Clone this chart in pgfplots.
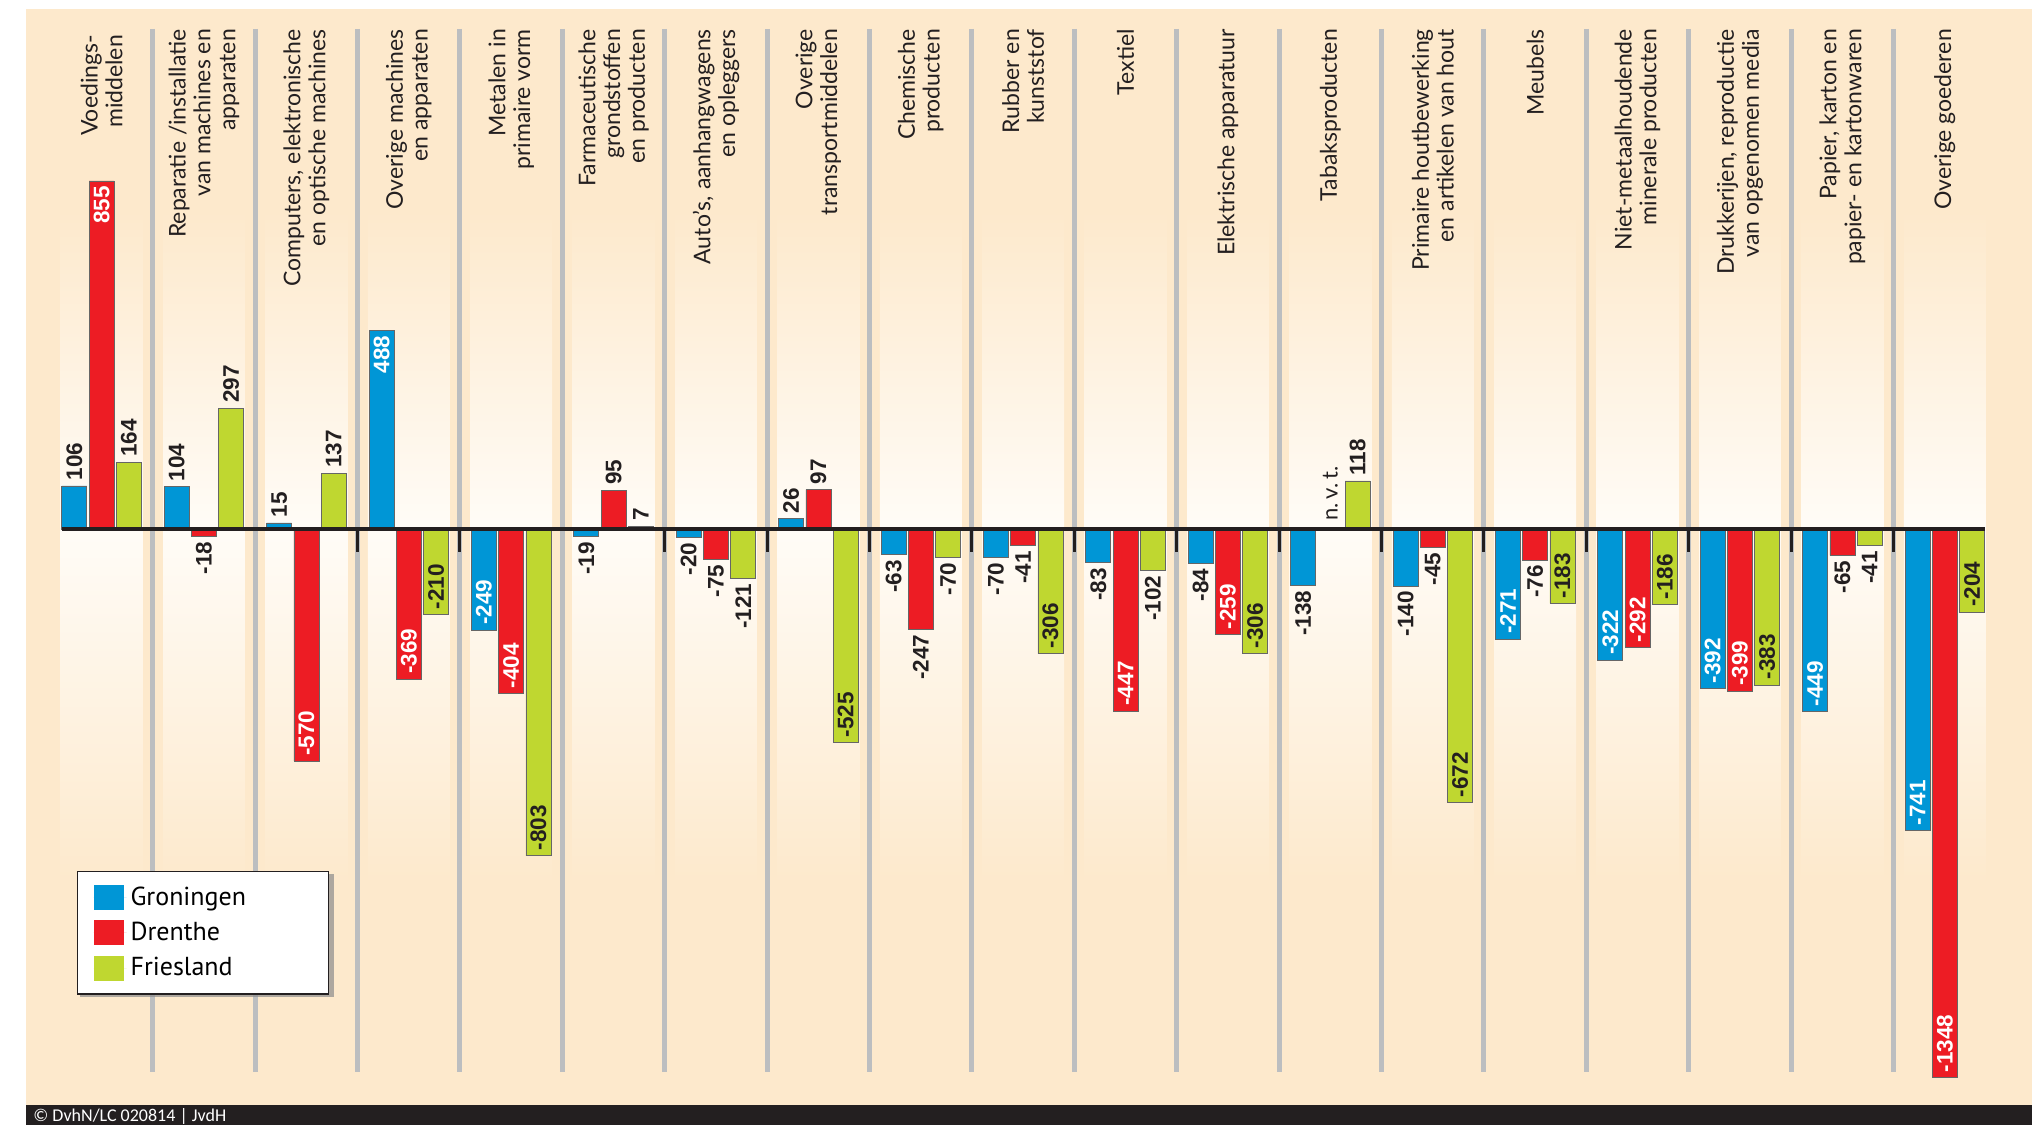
\documentclass[border=0pt]{standalone}
\usepackage{pgfplots}
\pgfplotsset{compat=1.18}
\usepackage{pgfplotstable}
\usepackage{fontspec}
\setmainfont{Lato}
\newfontfamily\valfont{Liberation Sans}
\newfontfamily\legfont{PT Sans}
\newfontfamily\footfont{Carlito}
\usetikzlibrary{calc}
\pgfdeclarelayer{background}
\pgfsetlayers{background,main}

\definecolor{peach}{HTML}{FDE9CC}
\definecolor{colwhite}{HTML}{FFFCF7}
\definecolor{sepgray}{HTML}{BCBEC0}
\definecolor{gblue}{HTML}{0096D6}
\definecolor{dred}{HTML}{ED1C24}
\definecolor{fgreen}{HTML}{BFD730}
\definecolor{ink}{HTML}{231F20}

% Ga/Da/Fa: anchor of the value label; Gw/Dw: 1 = white label inside bar
\pgfplotstableread{
x G D F Ga Da Fa Gw Dw
0 106 855 164 west east west 0 1
1 104 -18 297 west east west 0 0
2 15 -570 137 west west west 0 1
3 488 -369 -210 east west west 1 1
4 -249 -404 -803 west west west 1 1
5 -19 95 7 east west west 0 0
6 -20 -75 -121 east east east 0 0
7 26 97 -525 west west west 0 0
8 -63 -247 -70 east east east 0 0
9 -70 -41 -306 east east west 0 0
10 -83 -447 -102 east west east 0 1
11 -84 -259 -306 east west west 0 1
12 -138 nan 118 east west west 0 0
13 -140 -45 -672 east east west 0 0
14 -271 -76 -183 west east west 1 0
15 -322 -292 -186 west west west 1 1
16 -392 -399 -383 west west west 1 1
17 -449 -65 -41 west east east 1 0
18 -741 -1348 -204 west west west 1 1
}\datatable

\tikzset{
  catlab/.style={rotate=90, anchor=east, align=right, text=ink, inner sep=0pt,
    font=\fontsize{11.5}{12.4}\selectfont},
  vallab/.style={rotate=90, font=\valfont\bfseries\fontsize{11.25}{12}\selectfont,
    inner xsep=2.5pt, inner ysep=0pt, anchor=\pgfplotspointmeta}
}
\pgfplotsset{
  barstyle/.style={draw=black!60, line width=0.35pt},
  labplot/.style={forget plot, draw=none, fill=none,
    point meta=explicit symbolic,
    visualization depends on={y \as \rawy},
    every node near coord/.append style={vallab}},
}

\begin{document}
\begin{tikzpicture}
\begin{axis}[
  at={(0,0)}, anchor=south west,
  scale only axis, width=1003pt, height=548pt,
  hide axis, clip=false,
  xmin=-0.738, xmax=18.852, ymin=-1415.2, ymax=1277.6,
  ybar, bar width=0.244,
  /pgf/number format/.cd, fixed, precision=0, 1000 sep={}, assume math mode=true,
  /pgfplots/.cd,
  legend style={at={(0.0254,0.2135)}, anchor=north west, draw=ink, line width=0.6pt,
    fill=white,
    font=\legfont\fontsize{13}{14.5}\selectfont, inner xsep=8pt, inner ysep=5.5pt,
    row sep=3pt, cells={anchor=west}},
  legend image code/.code={\fill[#1,draw=none] (0pt,-6.25pt) rectangle (15pt,6.25pt);
    \path[draw=none] (0pt,0pt) -- (16.5pt,0pt);},
]
\coordinate (axSW) at (rel axis cs:0,0);
\coordinate (axNE) at (rel axis cs:1,1);
% background columns
\pgfplotsinvokeforeach{0,...,18}{
  \shade[top color=peach, bottom color=colwhite] (axis cs:#1-0.40,781) rectangle (axis cs:#1+0.40,0);
  \shade[top color=colwhite, bottom color=peach] (axis cs:#1-0.40,0) rectangle (axis cs:#1+0.40,-872);
}
% separators
\pgfplotsinvokeforeach{0,...,17}{
  \draw[sepgray, line width=2.5pt] (axis cs:#1+0.5,1229) -- (axis cs:#1+0.5,-1334);
}
\pgfplotsinvokeforeach{2,3,5,6,7,8,9,10,11,12,13,14,15,16,17}{
  \draw[ink, line width=1.5pt] (axis cs:#1+0.5,0) -- (axis cs:#1+0.5,-56);
}

\addplot[fill=gblue, barstyle, bar shift=-0.266] table[x=x, y=G] {\datatable};
\addlegendentry{\makebox[89pt][l]{Groningen}}
\addplot[fill=dred, barstyle, bar shift=0] table[x=x, y=D] {\datatable};
\addlegendentry{\makebox[89pt][l]{Drenthe}}
\addplot[fill=fgreen, barstyle, bar shift=0.266] table[x=x, y=F] {\datatable};
\addlegendentry{\makebox[89pt][l]{Friesland}}

% value labels
\addplot[labplot, bar shift=-0.266,
  visualization depends on={\thisrow{Gw} \as \wflag},
  nodes near coords={\ifdim\wflag pt>0.5pt\color{white}\else\color{ink}\fi\pgfmathprintnumber{\rawy}}]
  table[x=x, y=G, meta=Ga] {\datatable};
\addplot[labplot, bar shift=0,
  visualization depends on={\thisrow{Dw} \as \wflag},
  nodes near coords={\ifdim\wflag pt>0.5pt\color{white}\else\color{ink}\fi\pgfmathprintnumber{\rawy}}]
  table[x=x, y=D, meta=Da] {\datatable};
\addplot[labplot, bar shift=0.266,
  nodes near coords={\color{ink}\pgfmathprintnumber{\rawy}}]
  table[x=x, y=F, meta=Fa] {\datatable};

% zero line
\draw[ink, line width=1.8pt] (axis cs:-0.387,0) -- (axis cs:18.39,0);

\node[rotate=90, anchor=west, inner sep=0pt, text=ink, font=\fontsize{11}{12}\selectfont] at (axis cs:12,20) {n.\,v.\,t.};

% legend shadow
\fill[black!45, opacity=0.7] (rel axis cs:0.0269,0.2108) rectangle (rel axis cs:0.1535,0.0985);

% category labels
\node[catlab, xshift=-3pt] at (axis cs:0,1229) {Voedings-\\middelen};
\node[catlab] at (axis cs:1,1229) {Reparatie /installatie\\van machines en\\apparaten};
\node[catlab] at (axis cs:2,1229) {Computers, elektronische\\en optische machines};
\node[catlab] at (axis cs:3,1229) {Overige machines\\en apparaten};
\node[catlab] at (axis cs:4,1229) {Metalen in\\primaire vorm};
\node[catlab] at (axis cs:5,1229) {Farmaceutische\\grondstoffen\\en producten};
\node[catlab] at (axis cs:6,1229) {Auto’s, aanhangwagens\\en opleggers};
\node[catlab] at (axis cs:7,1229) {Overige\\transportmiddelen};
\node[catlab] at (axis cs:8,1229) {Chemische\\producten};
\node[catlab] at (axis cs:9,1229) {Rubber en\\kunststof};
\node[catlab] at (axis cs:10,1229) {Textiel};
\node[catlab] at (axis cs:11,1229) {Elektrische apparatuur};
\node[catlab] at (axis cs:12,1229) {Tabaksproducten};
\node[catlab] at (axis cs:13,1229) {Primaire houtbewerking\\en artikelen van hout};
\node[catlab] at (axis cs:14,1229) {Meubels};
\node[catlab] at (axis cs:15,1229) {Niet-metaalhoudende\\minerale producten};
\node[catlab] at (axis cs:16,1229) {Drukkerijen, reproductie\\van opgenomen media};
\node[catlab] at (axis cs:17,1229) {Papier, karton en\\papier- en kartonwaren};
\node[catlab] at (axis cs:18,1229) {Overige goederen};
\end{axis}
\begin{pgfonlayer}{background}
  \fill[white] ($(axSW)+(-13pt,-10pt)$) rectangle ($(axNE)+(0pt,4.5pt)$);
  \fill[peach] (axSW) rectangle (axNE);
  \fill[ink] ($(axSW)+(0pt,-10pt)$) rectangle (axSW -| axNE);
\end{pgfonlayer}
\node[anchor=base west, text=white, font=\footfont\fontsize{9}{10}\selectfont, inner sep=0pt] at ($(axSW)+(3.5pt,-8.2pt)$) {© DvhN/LC 020814 | JvdH};
\pgfresetboundingbox
\useasboundingbox ($(axSW)+(-13pt,-10pt)$) rectangle ($(axNE)+(0pt,4.5pt)$);
\end{tikzpicture}
\end{document}
